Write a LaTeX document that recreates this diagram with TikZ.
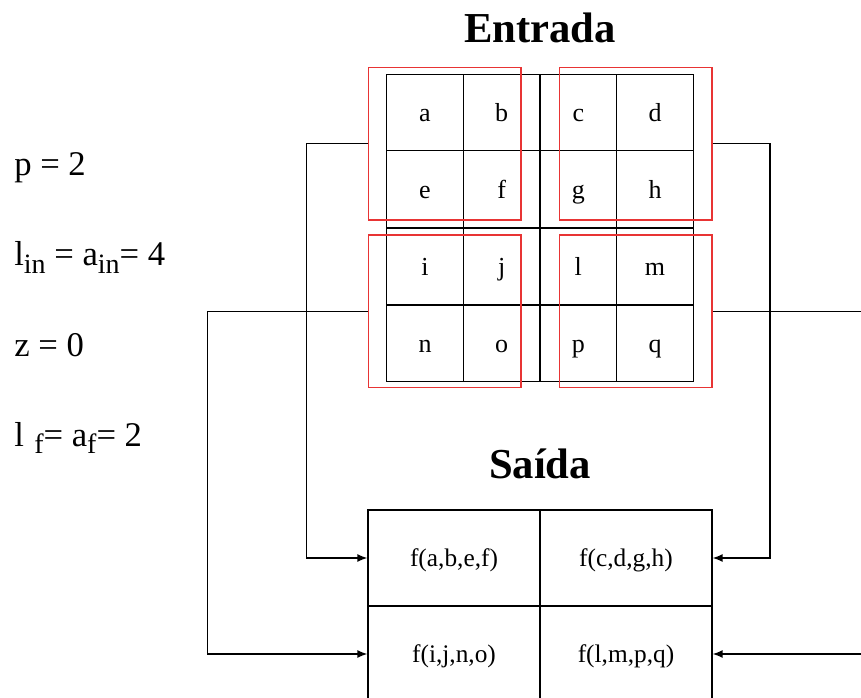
\documentclass[tikz,border=0pt]{standalone}
\usepackage{fontspec}
\setmainfont{Liberation Serif}
\usetikzlibrary{positioning, arrows.meta}
\definecolor{poolred}{RGB}{232,52,52}
\newcommand{\sbs}[1]{\raisebox{-5.3pt}{\fontsize{21}{24}\selectfont #1}}

\begin{document}
\begin{tikzpicture}[x=0.75pt, y=-0.75pt,
  cell/.style={draw, line width=0.9pt, minimum width=57.5pt, minimum height=57.4pt, inner sep=0pt, text height=14pt, text depth=0.2pt, font=\fontsize{19.5}{22}\selectfont},
  pool/.style={draw=poolred, line width=1.05pt, minimum width=114.7pt, minimum height=114.5pt, inner sep=0pt},
  outcell/.style={draw, line width=1pt, minimum width=129pt, minimum height=72pt, inner sep=0pt, text height=13pt, text depth=0pt, font=\fontsize{19}{22}\selectfont},
  wire/.style={line width=1.1pt},
  conn/.style={wire, -{Latex[length=7.5pt,width=6pt]}},
  title/.style={font=\bfseries\fontsize{32}{36}\selectfont, anchor=base, inner sep=0pt},
  param/.style={font=\fontsize{26}{30}\selectfont, anchor=base west, inner sep=0pt}]
\path[use as bounding box, clip] (0,0) rectangle (861,698);

% parameters
\node[param] (pval) at (14,176) {p = 2};
\node[param] (lin) at (14,266) {l\sbs{in} = a\sbs{in}= 4};
\node[param] (zval) at (14,356.7) {z = 0};
\node[param] (lf) at (14,446.7) {l\hspace{0.3em}\sbs{f}= a\sbs{f}= 2};

% input
\node[title] (entrada) at (540,42.7) {Entrada};
\foreach \ch [count=\i from 0] in {a,b,c,d,e,f,g,h,i,j,l,m,n,o,p,q} {
  \pgfmathtruncatemacro{\cx}{mod(\i,4)}
  \pgfmathtruncatemacro{\cy}{div(\i,4)}
  \pgfmathsetmacro{\gap}{\cy>1 ? 1.2 : 0}
  \node[cell] (in-\ch) at ({425+76.67*\cx},{112.5+76.5*\cy+\gap}) {\ch};
}
\node[pool] (poolTL) at (444.7,143.7) {};
\node[pool] (poolTR) at (635.7,143.7) {};
\node[pool] (poolBL) at (444.7,311.3) {};
\node[pool] (poolBR) at (635.7,311.3) {};

% output
\node[title] (saida) at (540,479) {Saída};
\node[outcell] (out-abef) at (454,558) {f(a,b,e,f)};
\node[outcell] (out-cdgh) at (626,558) {f(c,d,g,h)};
\node[outcell] (out-ijno) at (454,654) {f(i,j,n,o)};
\node[outcell] (out-lmpq) at (626,654) {f(l,m,p,q)};

% connections
\coordinate (edgeR) at (861,0);
\draw[conn] (poolTL.west) -- ++(-61,0) |- (out-abef.west);
\draw[conn] (poolBL.west) -- ++(-160,0) |- (out-ijno.west);
\draw[conn] (poolTR.east) -- ++(57,0) |- (out-cdgh.east);
\draw[wire] (poolBR.east) -- (poolBR.east -| edgeR);
\draw[conn] (out-lmpq.east -| edgeR) -- (out-lmpq.east);
\end{tikzpicture}
\end{document}
